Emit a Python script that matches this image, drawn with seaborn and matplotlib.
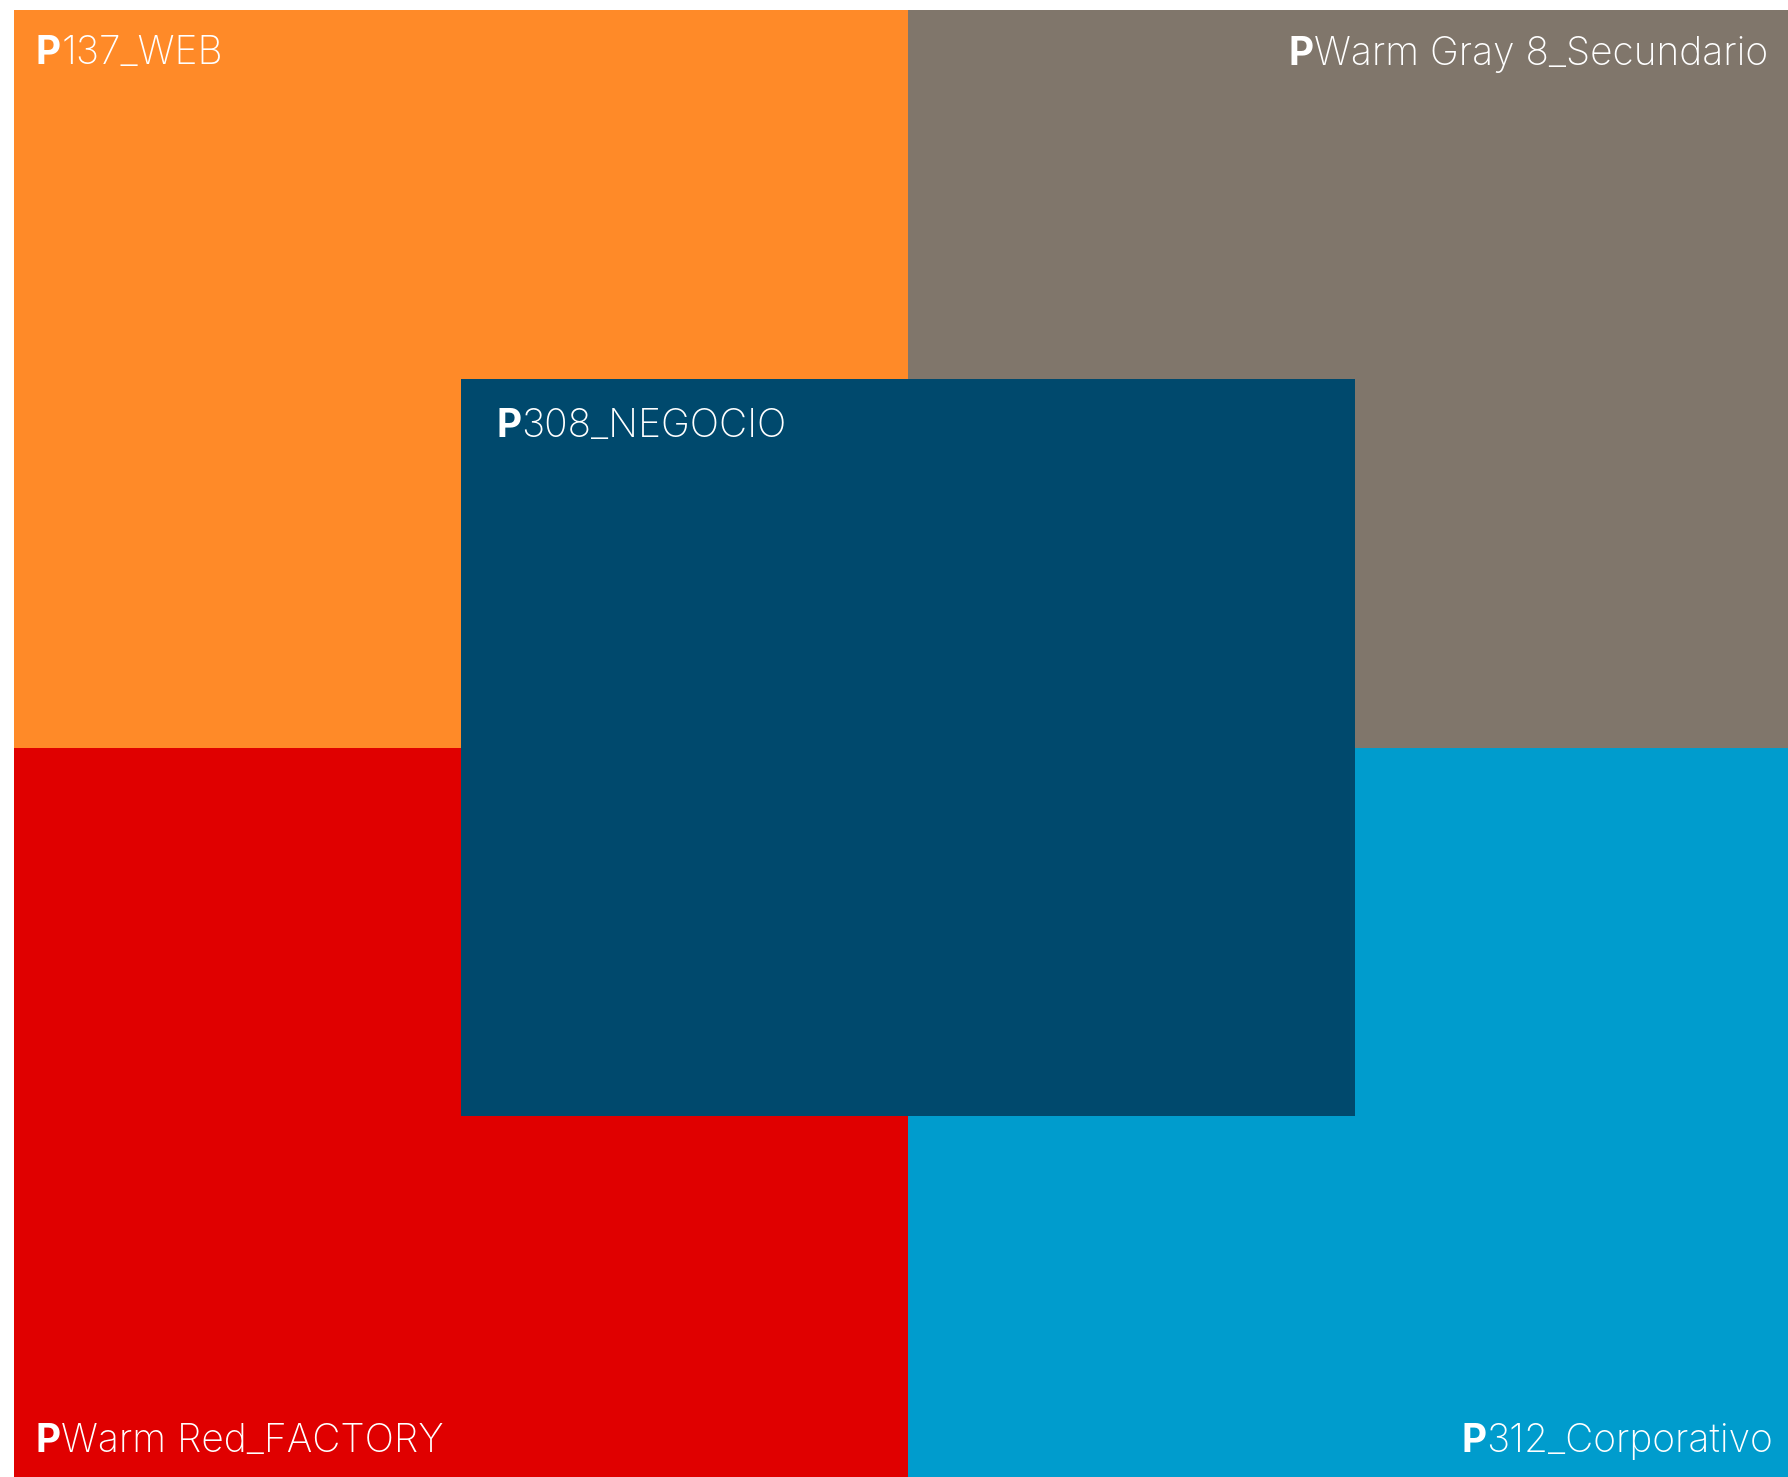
import matplotlib
matplotlib.use("Agg")
import matplotlib.pyplot as plt
import seaborn as sns
import pandas as pd

# ---- data ----
prefixes = ["P", "P", "P", "P", "P"]
names = ["137_WEB", "Warm Gray 8_Secundario", "Warm Red_FACTORY", "312_Corporativo", "308_NEGOCIO"]
hex_colors = ["#FF8A28", "#80766B", "#E00000", "#009CCD", "#00496D"]
grid_col = [0.0, 1.0, 0.0, 1.0, 0.5]
grid_row = [0.0, 0.0, 1.0, 1.0, 0.5]

df = pd.DataFrame({"prefix": prefixes, "name": names, "color": hex_colors,
                   "col": grid_col, "row": grid_row})

sns.set_theme(style="white")
plt.rcParams["font.family"] = ["Inter", "DejaVu Sans"]

W, H = 1788, 1477
fig = plt.figure(figsize=(W / 100, H / 100), dpi=100)
fig.patch.set_facecolor("white")
left_px, top_px = 14, 10
ax = fig.add_axes([left_px / W, 0, (W - left_px) / W, (H - top_px) / H])
ux, uy = 894.0, 737.5
xmax = (W - left_px) / ux
ymax = (H - top_px) / uy
ax.set_xlim(0, xmax)
ax.set_ylim(ymax, 0)
ax.axis("off")

palette = sns.color_palette(df["color"].tolist())
ax.bar(df["col"], 1.0, bottom=df["row"], width=1.0, align="edge",
       color=palette, linewidth=0)

fs = 28
label_style = [
    ("left", 22, 54, "top"),
    ("right", 20, 55, "top"),
    ("left", 22, 25, "bottom"),
    ("right", 15, 25, "bottom"),
    ("left", 35, 58, "top"),
]
for i, r in df.iterrows():
    align, dx, dy, ref = label_style[i]
    if ref == "top":
        y = r["row"] + dy / uy
    else:
        y = min(r["row"] + 1.0, ymax) - dy / uy
    if align == "left":
        x = r["col"] + dx / ux
        p = ax.text(x, y, r["prefix"], color="white", fontsize=fs,
                    fontweight="bold", ha="left", va="baseline")
        ax.annotate(r["name"], xy=(1, y), xycoords=(p, "data"), color="white",
                    fontsize=fs, fontweight="light", ha="left", va="baseline")
    else:
        x = min(r["col"] + 1.0, xmax) - dx / ux
        t = ax.text(x, y, r["name"], color="white", fontsize=fs,
                    fontweight="light", ha="right", va="baseline")
        ax.annotate(r["prefix"], xy=(0, y), xycoords=(t, "data"), color="white",
                    fontsize=fs, fontweight="bold", ha="right", va="baseline")

fig.savefig("out.png", dpi=100)
